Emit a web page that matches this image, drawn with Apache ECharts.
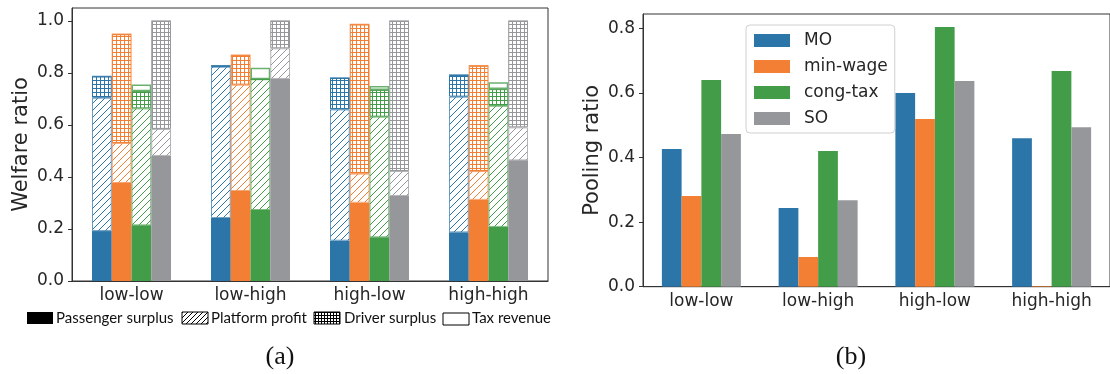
<!DOCTYPE html>
<html><head><meta charset="utf-8">
<script src="https://cdn.jsdelivr.net/npm/echarts@6/dist/echarts.min.js"></script>
<style>html,body{margin:0;padding:0;background:#fff}#c{width:1110px;height:374px}</style>
</head><body><div id="c"></div>
<script>
// ---------------- data ----------------
const categories = ['low-low', 'low-high', 'high-low', 'high-high'];
const methods = ['MO', 'min-wage', 'cong-tax', 'SO'];
const componentNames = ['Passenger surplus', 'Platform profit', 'Driver surplus', 'Tax revenue'];
// welfare components; rows = MO, min-wage, cong-tax, SO ; columns = categories
const passengerSurplus = [
  [0.192, 0.242, 0.155, 0.187],
  [0.377, 0.346, 0.301, 0.312],
  [0.214, 0.273, 0.168, 0.208],
  [0.481, 0.777, 0.327, 0.464]
];
const platformProfit = [
  [0.513, 0.582, 0.505, 0.522],
  [0.154, 0.409, 0.112, 0.111],
  [0.450, 0.503, 0.464, 0.466],
  [0.104, 0.118, 0.096, 0.127]
];
const driverSurplus = [
  [0.082, 0.004, 0.121, 0.083],
  [0.418, 0.113, 0.574, 0.405],
  [0.066, 0.000, 0.103, 0.064],
  [0.415, 0.105, 0.577, 0.409]
];
const taxRevenue = [
  [0, 0, 0, 0],
  [0, 0, 0, 0],
  [0.026, 0.044, 0.015, 0.026],
  [0, 0, 0, 0]
];
// pooling ratio; rows = MO, min-wage, cong-tax, SO
const poolingRatio = [
  [0.426, 0.244, 0.600, 0.460],
  [0.281, 0.092, 0.519, 0.002],
  [0.640, 0.420, 0.804, 0.668],
  [0.473, 0.268, 0.637, 0.494]
];
const welfareTicks = [0, 0.2, 0.4, 0.6, 0.8, 1.0];
const poolingTicks = [0, 0.2, 0.4, 0.6, 0.8];

// ---------------- styles ----------------
const colors = ['#2c75a8', '#f27f33', '#439d48', '#96979b'];
const FONT = 'DejaVu Sans';
const TXT = '#262626';
const AX = '#333333';

function hatchPattern(color, size) {
  const c = document.createElement('canvas');
  c.width = c.height = size;
  const g = c.getContext('2d');
  g.fillStyle = '#fff'; g.fillRect(0, 0, size, size);
  g.strokeStyle = color; g.lineWidth = 1;
  const segs = [[-1, size + 1, size + 1, -1], [-2, 1, 1, -2], [size - 1, size + 2, size + 2, size - 1]];
  segs.forEach(s => { g.beginPath(); g.moveTo(s[0], s[1]); g.lineTo(s[2], s[3]); g.stroke(); });
  return { image: c, repeat: 'repeat' };
}
function gridPattern(color, size) {
  const c = document.createElement('canvas');
  c.width = c.height = size;
  const g = c.getContext('2d');
  g.fillStyle = '#fff'; g.fillRect(0, 0, size, size);
  g.fillStyle = color;
  g.fillRect(0, 0, size, 1); g.fillRect(0, 0, 1, size);
  return { image: c, repeat: 'repeat' };
}
function fade(hex, a) {
  const n = parseInt(hex.slice(1), 16);
  return 'rgba(' + (n >> 16) + ',' + ((n >> 8) & 255) + ',' + (n & 255) + ',' + a + ')';
}
function componentStyle(k, m) {
  const col = colors[m];
  if (k === 0) return { color: col, borderWidth: 0 };
  if (k === 1) return { color: hatchPattern(col, 7), borderColor: fade(col, 0.7), borderWidth: 1 };
  if (k === 2) return { color: gridPattern(col, 4), borderColor: col, borderWidth: 1 };
  return { color: '#ffffff', borderColor: fade(col, 0.8), borderWidth: 1.5 };
}

const components = [passengerSurplus, platformProfit, driverSurplus, taxRevenue];
const BW = 19.75;
const series = [];
for (let m = 0; m < methods.length; m++) {
  for (let k = 0; k < components.length; k++) {
    series.push({
      type: 'bar', name: componentNames[k], xAxisIndex: 0, yAxisIndex: 0,
      stack: 'w' + m, barWidth: BW, barGap: '0%',
      data: components[k][m], itemStyle: componentStyle(k, m),
      emphasis: { disabled: true }
    });
  }
}
for (let m = 0; m < methods.length; m++) {
  series.push({
    type: 'bar', name: methods[m], xAxisIndex: 1, yAxisIndex: 1,
    barWidth: BW, barGap: '0%', data: poolingRatio[m],
    itemStyle: { color: colors[m] }, emphasis: { disabled: true }
  });
}

function xAxisCfg(gi) {
  return {
    type: 'category', gridIndex: gi, data: categories,
    axisLine: { lineStyle: { color: AX, width: 1 } },
    axisTick: { alignWithLabel: true, length: 4, lineStyle: { color: AX } },
    axisLabel: { fontFamily: FONT, fontSize: 17, color: TXT, margin: 6 }
  };
}
function yAxisCfg(gi, max, ticks, name) {
  return {
    type: 'value', gridIndex: gi, min: 0, max: max, interval: 0.2,
    name: name, nameLocation: 'middle', nameGap: 40,
    nameTextStyle: { fontFamily: FONT, fontSize: 21, color: TXT },
    splitLine: { show: false },
    axisLine: { show: true, lineStyle: { color: AX, width: 1 } },
    axisTick: { show: true, length: 4, lineStyle: { color: AX }, customValues: ticks },
    axisLabel: { fontFamily: FONT, fontSize: 17, color: TXT, margin: 8, customValues: ticks,
      formatter: v => v.toFixed(1) }
  };
}

const legFont = 'Lato';
function legText(x, t) {
  return { type: 'text', x: x, y: 318, silent: true,
    style: { text: t, fontFamily: legFont, fontSize: 15, fill: '#111', align: 'left', verticalAlign: 'middle' } };
}
const graphic = [
  { type: 'rect', shape: { x: 27, y: 312, width: 26, height: 12 }, style: { fill: '#000' }, silent: true },
  legText(56, componentNames[0]),
  { type: 'rect', shape: { x: 182, y: 312, width: 26, height: 12 }, style: { fill: hatchPattern('#000', 5), stroke: '#000', lineWidth: 1 }, silent: true },
  legText(211, componentNames[1]),
  { type: 'rect', shape: { x: 314, y: 312, width: 26, height: 12 }, style: { fill: gridPattern('#000', 3), stroke: '#000', lineWidth: 1 }, silent: true },
  legText(344, componentNames[2]),
  { type: 'rect', shape: { x: 443, y: 313, width: 26, height: 12 }, style: { fill: '#fff', stroke: '#000', lineWidth: 1 }, silent: true },
  legText(472, componentNames[3]),
  { type: 'text', x: 280, y: 357, silent: true,
    style: { text: '(a)', fontFamily: 'Liberation Serif', fontSize: 26, fill: '#111', align: 'center', verticalAlign: 'middle' } },
  { type: 'text', x: 851, y: 357, silent: true,
    style: { text: '(b)', fontFamily: 'Liberation Serif', fontSize: 26, fill: '#111', align: 'center', verticalAlign: 'middle' } }
];

const chart = echarts.init(document.getElementById('c'), null, { renderer: 'canvas' });
chart.setOption({
  animation: false,
  backgroundColor: '#ffffff',
  grid: [
    { left: 72, top: 8, width: 476, height: 273, show: true, borderColor: AX, borderWidth: 1, backgroundColor: 'transparent' },
    { left: 643, top: 14, width: 477, height: 272.7, show: true, borderColor: AX, borderWidth: 1, backgroundColor: 'transparent' }
  ],
  xAxis: [xAxisCfg(0), xAxisCfg(1)],
  yAxis: [yAxisCfg(0, 1.05, welfareTicks, 'Welfare ratio'), yAxisCfg(1, 0.8444, poolingTicks, 'Pooling ratio')],
  legend: [{
    data: methods, orient: 'vertical', left: 746, top: 25,
    icon: 'rect', itemWidth: 36, itemHeight: 13, itemGap: 9,
    padding: [7, 7, 6, 8], borderColor: '#d0d0d0', borderWidth: 1, borderRadius: 4,
    backgroundColor: 'rgba(255,255,255,0.8)',
    textStyle: { fontFamily: FONT, fontSize: 17, color: TXT, padding: [0, 0, 0, 9] },
    selectedMode: false
  }],
  graphic: graphic,
  series: series
});
</script></body></html>
